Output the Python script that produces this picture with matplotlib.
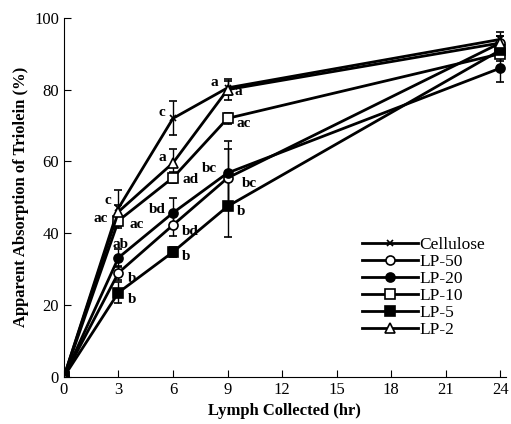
import matplotlib
matplotlib.use("Agg")
import matplotlib.pyplot as plt

plt.rcParams["font.family"] = ["Liberation Serif", "DejaVu Serif"]

hours = [0, 3, 6, 9, 24]

cellulose = [0, 47, 72, 80.5, 94]
cellulose_err = [0, 5, 4.7, 2, 2]
lp50 = [0, 29, 42.3, 55.4, 93]
lp50_err = [0, 2, 3, 8, 2]
lp20 = [0, 33.2, 45.7, 56.8, 86]
lp20_err = [0, 2.5, 4, 9, 4]
lp10 = [0, 43.5, 55.5, 72, 90]
lp10_err = [0, 2, 1.5, 1.5, 2]
lp5 = [0, 23.5, 34.8, 47.5, 91]
lp5_err = [0, 3, 1.5, 8.5, 2]
lp2 = [0, 46, 59.6, 80, 93]
lp2_err = [0, 2, 4, 3, 2]

series = [
    ("Cellulose", cellulose, cellulose_err, "x", "black"),
    ("LP-50", lp50, lp50_err, "o", "white"),
    ("LP-20", lp20, lp20_err, "o", "black"),
    ("LP-10", lp10, lp10_err, "s", "white"),
    ("LP-5", lp5, lp5_err, "s", "black"),
    ("LP-2", lp2, lp2_err, "^", "white"),
]

# significance letters: (x, y, text, ha)
letters = [
    (2.6, 49, "c", "right"), (2.4, 44, "ac", "right"), (3.6, 42.5, "ac", "left"),
    (3.1, 37, "ab", "center"), (3.5, 27.5, "b", "left"), (3.5, 21.5, "b", "left"),
    (5.6, 73.5, "c", "right"), (5.6, 61, "a", "right"), (6.5, 55, "ad", "left"),
    (5.6, 46.5, "bd", "right"), (6.5, 40.5, "bd", "left"), (6.5, 33.5, "b", "left"),
    (8.5, 82, "a", "right"), (9.4, 79.5, "a", "left"), (9.5, 70.5, "ac", "left"),
    (8.4, 58, "bc", "right"), (9.8, 54, "bc", "left"), (9.5, 46, "b", "left"),
]

fig = plt.figure(figsize=(5.11, 4.24), dpi=100)
ax = fig.add_axes([0.125, 0.111, 0.865, 0.847])

for name, vals, err, mk, fc in series:
    ax.errorbar(hours, vals, yerr=err, color="black", lw=2, marker=mk,
                markersize=6.5 if mk != "x" else 5, markerfacecolor=fc,
                markeredgecolor="black", markeredgewidth=1.2,
                elinewidth=1, capsize=3, capthick=1, label=name)

for x, y, t, ha in letters:
    ax.text(x, y, t, ha=ha, va="center", fontsize=11, fontweight="bold")

ax.set_xlim(0, 24.3)
ax.set_ylim(0, 100)
ax.set_xticks([0, 3, 6, 9, 12, 15, 18, 21, 24])
ax.set_yticks([0, 20, 40, 60, 80, 100])
ax.tick_params(direction="in", labelsize=12, length=5)
for s in ["top", "right"]:
    ax.spines[s].set_visible(False)
ax.set_xlabel("Lymph Collected (hr)", fontsize=12, fontweight="bold")
ax.set_ylabel("Apparent Absorption of Triolein (%)", fontsize=12, fontweight="bold")

handles, labels = ax.get_legend_handles_labels()
handles = [h[0] for h in handles]
ax.legend(handles, labels, loc="center left", bbox_to_anchor=(0.64, 0.25),
          frameon=False, fontsize=12.5, handlelength=3.2, labelspacing=0.05,
          handletextpad=0.1)

fig.savefig("out.png", dpi=100)
